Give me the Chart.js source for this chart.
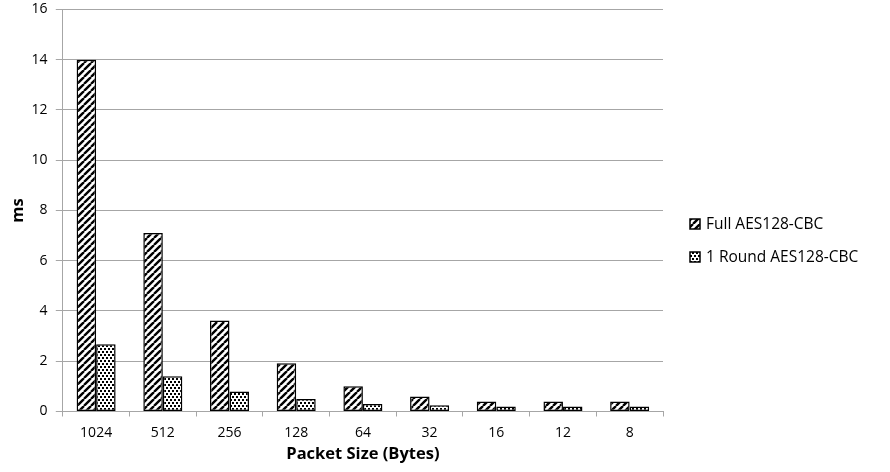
<!DOCTYPE html>
<html>
<head>
<meta charset="utf-8">
<script src="https://cdn.jsdelivr.net/npm/chart.js@4/dist/chart.umd.min.js"></script>
<style>
  html, body { margin: 0; padding: 0; background: #fff; }
  #wrap { width: 890px; height: 472px; position: relative; }
</style>
</head>
<body>
<div id="wrap"><canvas id="chart"></canvas></div>
<script>
// Packet sizes in bytes and timing in milliseconds
const packetSizes = ['1024', '512', '256', '128', '64', '32', '16', '12', '8'];
const fullAesMs   = [14.0, 7.1, 3.62, 1.92, 1.0, 0.6, 0.4, 0.4, 0.4];
const oneRoundMs  = [2.68, 1.4, 0.8, 0.5, 0.3, 0.25, 0.2, 0.2, 0.2];
const yTicks      = [0, 2, 4, 6, 8, 10, 12, 14, 16];

const FONT = '"Open Sans", "Liberation Sans", sans-serif';
const AXIS_GREY = '#a6a6a6';

// Diagonal hatch fill
function hatchPattern() {
  const s = 7;
  const c = document.createElement('canvas');
  c.width = s; c.height = s;
  const g = c.getContext('2d');
  g.fillStyle = '#fff';
  g.fillRect(0, 0, s, s);
  g.strokeStyle = '#000';
  g.lineWidth = 2.4;
  g.beginPath();
  for (let k = -1; k <= 1; k++) {
    g.moveTo(k * s, s);
    g.lineTo(k * s + s, 0);
  }
  g.stroke();
  return g.createPattern(c, 'repeat');
}

// Staggered small-square fill
function dotPattern() {
  const c = document.createElement('canvas');
  c.width = 8; c.height = 6;
  const g = c.getContext('2d');
  g.fillStyle = '#fff';
  g.fillRect(0, 0, 8, 6);
  g.fillStyle = '#000';
  [[0, 0], [4, 0], [2, 3], [6, 3]].forEach(([x, y]) => g.fillRect(x, y, 2, 2));
  return g.createPattern(c, 'repeat');
}

// Legend drawn to the right of the plot area
const sideLegend = {
  id: 'sideLegend',
  afterDraw(chart) {
    const g = chart.ctx;
    const x = chart.chartArea.right + 27;
    const rows = [224, 257];
    g.save();
    chart.data.datasets.forEach((ds, i) => {
      const cy = rows[i];
      g.fillStyle = ds.backgroundColor;
      g.fillRect(x, cy - 5, 10, 10);
      g.strokeStyle = '#000';
      g.lineWidth = 1.5;
      g.strokeRect(x, cy - 5, 10, 10);
      g.fillStyle = '#000';
      g.font = '15.5px ' + FONT;
      g.textBaseline = 'middle';
      g.textAlign = 'left';
      g.fillText(ds.label, x + 16, cy + 1);
    });
    g.restore();
  }
};

const ctx = document.getElementById('chart').getContext('2d');
new Chart(ctx, {
  type: 'bar',
  data: {
    labels: packetSizes,
    datasets: [
      {
        label: 'Full AES128-CBC',
        data: fullAesMs,
        backgroundColor: hatchPattern(),
        borderColor: '#000',
        borderWidth: 1.5,
        borderSkipped: false
      },
      {
        label: '1 Round AES128-CBC',
        data: oneRoundMs,
        backgroundColor: dotPattern(),
        borderColor: '#000',
        borderWidth: 1.5,
        borderSkipped: false
      }
    ]
  },
  plugins: [sideLegend],
  options: {
    responsive: true,
    maintainAspectRatio: false,
    animation: false,
    layout: { padding: { top: 2, right: 227, bottom: 9, left: 10 } },
    datasets: {
      bar: { categoryPercentage: 0.585, barPercentage: 1.0 }
    },
    plugins: {
      legend: { display: false },
      tooltip: { enabled: false }
    },
    scales: {
      x: {
        offset: true,
        grid: {
          display: true,
          drawOnChartArea: false,
          drawTicks: true,
          tickLength: 5,
          color: AXIS_GREY,
          offset: true
        },
        border: { color: AXIS_GREY, width: 1 },
        ticks: { color: '#000', font: { family: FONT, size: 14, lineHeight: 1.0 }, padding: 10 },
        title: {
          display: true,
          text: 'Packet Size (Bytes)',
          color: '#000',
          font: { family: FONT, size: 16.5, weight: 'bold', lineHeight: 1.0 },
          padding: { top: -4, bottom: 0 }
        }
      },
      y: {
        min: 0,
        max: 16,
        afterBuildTicks: (axis) => { axis.ticks = yTicks.map(v => ({ value: v })); },
        grid: { color: AXIS_GREY, tickLength: 7 },
        border: { color: AXIS_GREY, width: 1 },
        ticks: {
          color: '#000',
          font: { family: FONT, size: 14 },
          padding: 1,
          // two trailing spaces keep the labels clear of the tick marks
          callback: (v) => v + '  '
        },
        title: {
          display: true,
          text: 'ms',
          color: '#000',
          font: { family: FONT, size: 16.5, weight: 'bold', lineHeight: 1.0 },
          padding: { top: 0, bottom: 4 }
        }
      }
    }
  }
});
</script>
</body>
</html>
